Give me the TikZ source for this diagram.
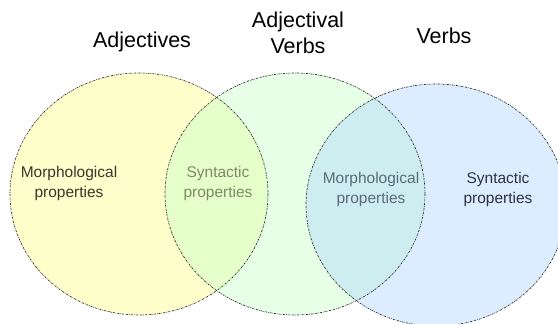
\documentclass[tikz,border=0pt]{standalone}
\usepackage{fontspec}
\setmainfont{Liberation Sans}
\begin{document}
\begin{tikzpicture}[x=1pt,y=-1pt,
  outline/.style={draw=black!85,line width=0.65pt,dash pattern=on 2pt off 1pt on 0.6pt off 1pt},
  title/.style={align=center,font=\fontsize{21.5}{26}\selectfont,inner sep=0pt},
  prop/.style={align=center,font=\fontsize{15.5}{20}\selectfont,inner sep=0pt}]
\useasboundingbox (0,0) rectangle (558,324);
% set areas
\coordinate (cA) at (139,194);
\coordinate (cAV) at (295,194);
\coordinate (cV) at (436,205);
\fill[color={rgb,255:red,255;green,255;blue,204}] (cA) ellipse [x radius=129,y radius=121];
\fill[color={rgb,255:red,200;green,255;blue,200},fill opacity=0.45] (cAV) ellipse [x radius=130,y radius=121];
\fill[color={rgb,255:red,176;green,216;blue,255},fill opacity=0.45] (cV) ellipse [x radius=130,y radius=121];
% outlines
\draw[outline] (cA) ellipse [x radius=129,y radius=121];
\draw[outline] (cAV) ellipse [x radius=130,y radius=121];
\draw[outline] (cV) ellipse [x radius=130,y radius=121];
% set titles
\node[title] (tA) at (142,42) {Adjectives};
\node[title] (tAV) at (298,33) {Adjectival\\Verbs};
\node[title] (tV) at (444,36) {Verbs};
% properties
\node[prop,text={rgb,255:red,55;green,55;blue,45}] (mA) at (69,183) {Morphological\\properties};
\node[prop,text={rgb,255:red,125;green,138;blue,100}] (sAAV) at (218,183) {Syntactic\\properties};
\node[prop,text={rgb,255:red,90;green,108;blue,120}] (mAVV) at (371,189) {Morphological\\properties};
\node[prop,text={rgb,255:red,45;green,50;blue,65}] (sV) at (498,189) {Syntactic\\properties};
\end{tikzpicture}
\end{document}
